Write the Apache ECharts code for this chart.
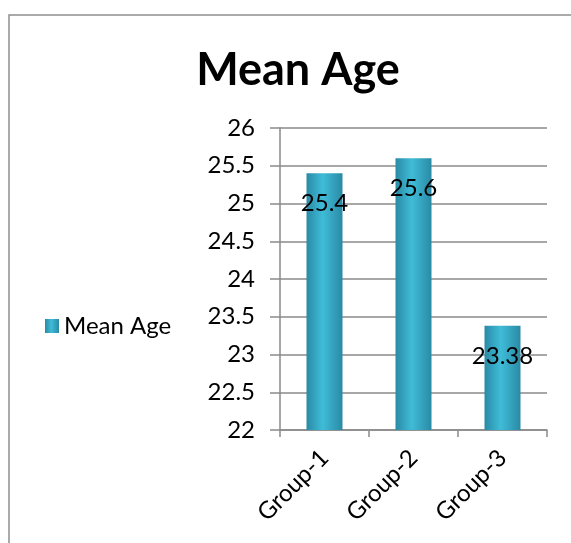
<!DOCTYPE html>
<html>
<head>
<meta charset="utf-8">
<script src="https://cdn.jsdelivr.net/npm/echarts@6/dist/echarts.min.js"></script>
<style>
    html, body { margin: 0; padding: 0; background: #fff; }
    #chart { width: 571px; height: 543px; }
</style>
</head>
<body>
<div id="chart"></div>
<script>
    // data
    var groups = ['Group-1', 'Group-2', 'Group-3'];
    var meanAge = [25.4, 25.6, 23.38];
    var seriesName = 'Mean Age';

    var font = 'Lato, "Open Sans", sans-serif';

    var barColor = new echarts.graphic.LinearGradient(0, 0, 1, 0, [
        { offset: 0, color: '#2a8aa5' },
        { offset: 0.45, color: '#3fbcd8' },
        { offset: 1, color: '#2a8aa5' }
    ]);

    var myChart = echarts.init(document.getElementById('chart'));
    var option = {
        animation: false,
        textStyle: { fontFamily: font },
        graphic: [{
            type: 'rect',
            shape: { x: 9, y: 15, width: 620, height: 600 },
            style: { fill: 'none', stroke: '#8f8f8f', lineWidth: 1.5 },
            silent: true
        }],
        title: {
            text: 'Mean Age',
            left: 293,
            top: 43,
            textAlign: 'center',
            textStyle: { fontFamily: font, fontSize: 45, fontWeight: 'bold', color: '#000' }
        },
        legend: {
            data: [seriesName],
            orient: 'vertical',
            left: 40,
            top: 309,
            icon: 'rect',
            itemWidth: 14,
            itemHeight: 14,
            itemGap: 6,
            textStyle: { fontFamily: font, fontSize: 24, color: '#000' }
        },
        grid: { left: 280, right: 24, top: 128, bottom: 113 },
        xAxis: {
            type: 'category',
            data: groups,
            axisLine: { lineStyle: { color: '#8a8a8a', width: 1.5 } },
            axisTick: { show: true, length: 7, lineStyle: { color: '#8a8a8a', width: 1.5 } },
            axisLabel: { rotate: 45, fontSize: 24, color: '#000', fontFamily: font, margin: 24 }
        },
        yAxis: {
            type: 'value',
            min: 22,
            max: 26,
            interval: 0.5,
            axisLine: { show: true, lineStyle: { color: '#8a8a8a', width: 1.5 } },
            axisTick: { show: true, length: 10, lineStyle: { color: '#8a8a8a', width: 1.5 } },
            axisLabel: { fontSize: 24, color: '#000', fontFamily: font, margin: 25 },
            splitLine: { lineStyle: { color: '#8a8a8a', width: 1.5 } }
        },
        series: [{
            type: 'bar',
            name: seriesName,
            data: meanAge,
            barWidth: 36,
            itemStyle: { color: barColor },
            label: {
                show: true,
                position: 'insideTop',
                distance: 18,
                fontSize: 24,
                color: '#000',
                fontFamily: font
            }
        }]
    };
    myChart.setOption(option);
</script>
</body>
</html>
